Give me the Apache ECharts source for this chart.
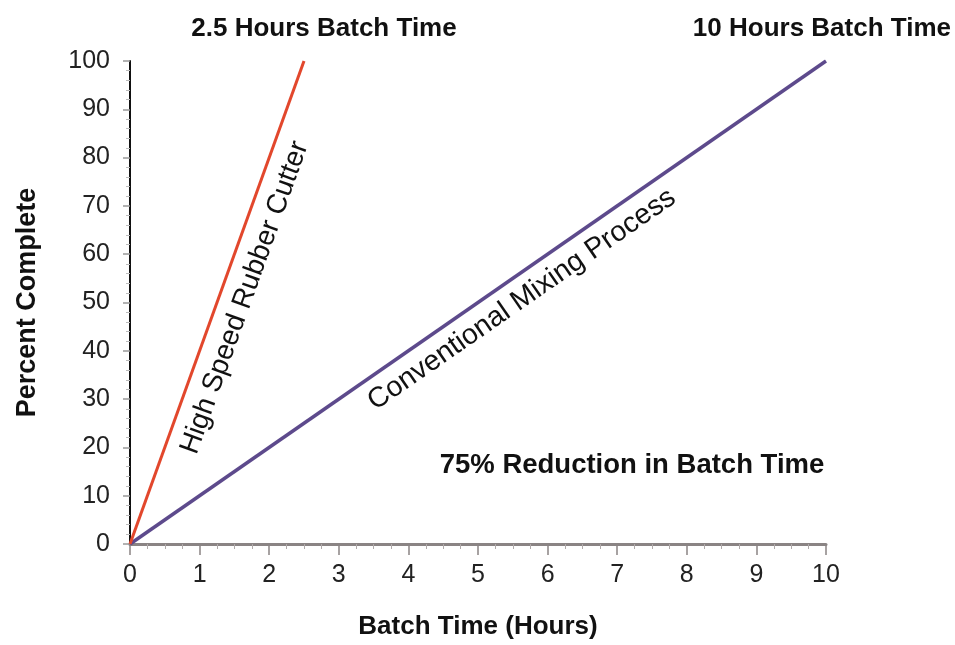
<!DOCTYPE html>
<html>
<head>
<meta charset="utf-8">
<script src="https://cdn.jsdelivr.net/npm/echarts@6/dist/echarts.min.js"></script>
<style>html,body{margin:0;padding:0;background:#fff;overflow:hidden;}#c{width:955px;height:645px;}</style>
</head>
<body>
<div id="c"></div>
<script>
// Data
var cutterHours = [0, 2.5];
var cutterPercent = [0, 100];
var conventionalHours = [0, 10];
var conventionalPercent = [0, 100];
var xTicks = [0, 1, 2, 3, 4, 5, 6, 7, 8, 9, 10];
var yTicks = [0, 10, 20, 30, 40, 50, 60, 70, 80, 90, 100];
var seriesNames = ['High Speed Rubber Cutter', 'Conventional Mixing Process'];
var headline1 = '2.5 Hours Batch Time';
var headline2 = '10 Hours Batch Time';
var note = '75% Reduction in Batch Time';

function pairs(xs, ys) { return xs.map(function (x, i) { return [x, ys[i]]; }); }

var FONT = '"Liberation Sans", Arial, Helvetica, sans-serif';
var chart = echarts.init(document.getElementById('c'), null, { renderer: 'canvas', width: 955, height: 645 });

var option = {
  backgroundColor: '#ffffff',
  animation: false,
  grid: { left: 130, width: 696, top: 61, height: 488, containLabel: false },
  xAxis: {
    type: 'value', min: xTicks[0], max: xTicks[xTicks.length - 1], interval: 1,
    name: 'Batch Time (Hours)', nameLocation: 'middle', nameGap: 70,
    nameTextStyle: { fontFamily: FONT, fontWeight: 'bold', fontSize: 26, color: '#111' },
    axisLine: { show: true, onZero: false, lineStyle: { color: '#8a8484', width: 3 } },
    axisTick: { show: true, length: 11, lineStyle: { color: '#8a8484', width: 1.5 } },
    minorTick: { show: true, splitNumber: 4, length: 5, lineStyle: { color: '#b0aaaa', width: 1 } },
    axisLabel: { fontFamily: FONT, fontSize: 25, color: '#222', margin: 19 },
    splitLine: { show: false }
  },
  yAxis: {
    type: 'value', min: yTicks[0], max: yTicks[yTicks.length - 1], interval: 10,
    name: 'Percent Complete', nameLocation: 'middle', nameGap: 89, nameRotate: 90,
    nameTextStyle: { fontFamily: FONT, fontWeight: 'bold', fontSize: 27, color: '#111' },
    axisLine: { show: true, onZero: false, lineStyle: { color: '#111', width: 2 } },
    axisTick: { show: true, length: 7, lineStyle: { color: '#999', width: 1.5 } },
    minorTick: { show: true, splitNumber: 5, length: 4, lineStyle: { color: '#bbb', width: 1 } },
    axisLabel: { fontFamily: FONT, fontSize: 25, color: '#222', margin: 20 },
    splitLine: { show: false }
  },
  series: [
    {
      name: seriesNames[0], type: 'line', data: pairs(cutterHours, cutterPercent),
      symbol: 'none', lineStyle: { color: '#e2472c', width: 3 }, z: 3
    },
    {
      name: seriesNames[1], type: 'line', data: pairs(conventionalHours, conventionalPercent),
      symbol: 'none', lineStyle: { color: '#5d4a8c', width: 3.5 }, z: 2
    }
  ]
};
chart.setOption(option);

function textEl(txt, pos, opts) {
  return {
    type: 'text', x: pos[0], y: pos[1], rotation: opts.rotation || 0, z: 10,
    style: {
      text: txt, fill: '#111', font: (opts.weight || 'normal') + ' ' + opts.size + 'px ' + FONT,
      align: opts.align || 'center', verticalAlign: 'middle'
    }
  };
}

function px(v) { return chart.convertToPixel({ gridIndex: 0 }, v); }
var o = px([0, 0]);
var e1 = px([cutterHours[1], cutterPercent[1]]);
var e2 = px([conventionalHours[1], conventionalPercent[1]]);
var angle1 = Math.atan2(o[1] - e1[1], e1[0] - o[0]);
var angle2 = Math.atan2(o[1] - e2[1], e2[0] - o[0]);
var p1 = px([1.65, 51]);
var p2 = px([5.63, 50.6]);

chart.setOption({
  graphic: [
    textEl(headline1, [324, 29], { size: 26, weight: 'bold' }),
    textEl(headline2, [951, 29], { size: 26, weight: 'bold', align: 'right' }),
    textEl(note, [632, 465], { size: 27.5, weight: 'bold' }),
    textEl(seriesNames[0], p1, { size: 28, rotation: angle1 }),
    textEl(seriesNames[1], p2, { size: 28.5, rotation: angle2 })
  ]
});
</script>
</body>
</html>
